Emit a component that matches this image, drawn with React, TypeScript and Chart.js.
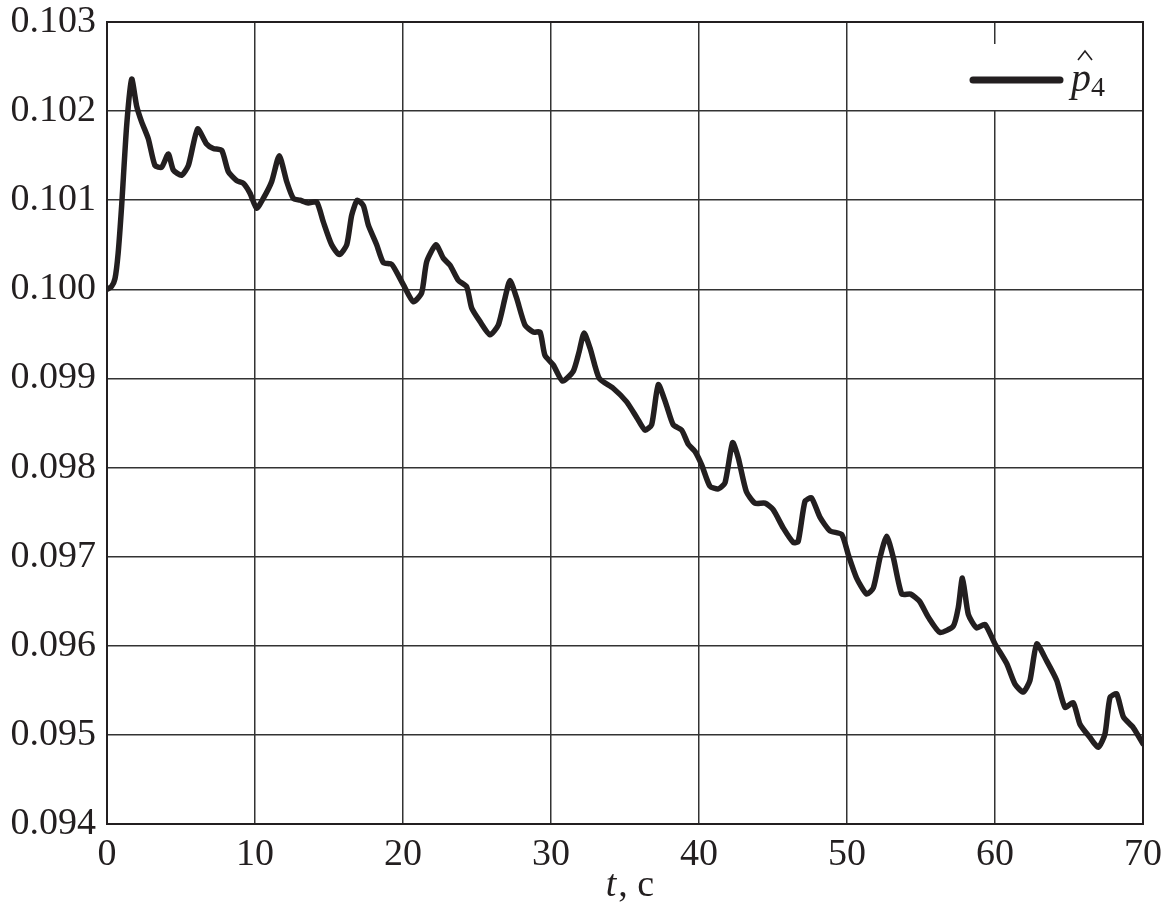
import React, { useEffect, useRef } from "react";
import { Chart, registerables } from "chart.js";

Chart.register(...registerables);

const tValues: number[] = [
  0, 0.3, 0.54, 0.75, 0.99, 1.33, 1.67, 2.0, 2.34, 2.79, 3.24, 3.69, 4.14, 4.48, 5.04, 5.5,
  6.12, 6.73, 7.18, 7.75, 8.2, 8.76, 9.21, 9.66, 10.11, 10.56, 11.13, 11.64, 12.14, 12.59,
  13.04, 13.6, 14.17, 14.61, 15.18, 15.7, 16.2, 16.53, 16.91, 17.32, 17.66, 18.22, 18.67,
  19.24, 19.8, 20.03, 20.7, 21.26, 21.6, 22.23, 22.72, 23.18, 23.74, 24.3, 24.64, 25.2,
  25.88, 26.44, 26.89, 27.23, 27.68, 28.24, 28.8, 29.26, 29.59, 30.16, 30.78, 31.5, 31.9,
  32.23, 32.64, 33.26, 34.2, 35.1, 35.8, 36.35, 36.8, 37.25, 37.8, 38.26, 38.83, 39.28,
  39.73, 40.18, 40.74, 41.31, 41.76, 42.27, 42.65, 43.2, 43.78, 44.46, 45.0, 45.7, 46.37,
  46.7, 47.16, 47.6, 48.18, 48.85, 49.64, 50.09, 50.65, 51.33, 51.78, 52.23, 52.68, 53.13,
  53.7, 54.3, 54.9, 55.5, 56.28, 57.18, 57.52, 57.8, 58.2, 58.76, 59.32, 60.0, 60.79,
  61.35, 61.91, 62.36, 62.82, 63.49, 64.17, 64.73, 65.29, 65.74, 66.42, 66.98, 67.43,
  67.77, 68.22, 68.68, 69.35, 70,
];

const pValues: number[] = [
  0.1, 0.10003, 0.10012, 0.1004, 0.10094, 0.10184, 0.10236, 0.10206, 0.10188, 0.10169,
  0.10139, 0.10137, 0.10152, 0.10134, 0.10128, 0.10139, 0.1018, 0.10163, 0.10158, 0.10156,
  0.10132, 0.10122, 0.10119, 0.10108, 0.10091, 0.10102, 0.10121, 0.1015, 0.10121, 0.10102,
  0.101, 0.10097, 0.10098, 0.10076, 0.1005, 0.10039, 0.1005, 0.10083, 0.101, 0.10094,
  0.10072, 0.1005, 0.1003, 0.10028, 0.10012, 0.10005, 0.09986, 0.09996, 0.10031, 0.1005,
  0.10035, 0.10027, 0.1001, 0.10003, 0.09979, 0.09964, 0.09949, 0.0996, 0.0999, 0.1001,
  0.0999, 0.0996, 0.09952, 0.09952, 0.09926, 0.09915, 0.09897, 0.09908, 0.0993, 0.09951,
  0.09934, 0.099, 0.09889, 0.09874, 0.09856, 0.09842, 0.09848, 0.09893, 0.0987, 0.09848,
  0.09842, 0.09826, 0.09818, 0.09803, 0.09779, 0.09776, 0.09783, 0.09828, 0.09811, 0.09773,
  0.0976, 0.0976, 0.09753, 0.09732, 0.09716, 0.09717, 0.09762, 0.09766, 0.09744, 0.09729,
  0.09725, 0.09702, 0.09676, 0.09658, 0.09665, 0.09699, 0.09723, 0.09699, 0.09658, 0.09658,
  0.0965, 0.09632, 0.09615, 0.09622, 0.09643, 0.09676, 0.09635, 0.0962, 0.09624, 0.09602,
  0.0958, 0.09557, 0.09548, 0.09561, 0.09602, 0.09583, 0.09561, 0.09531, 0.09536, 0.09512,
  0.09497, 0.09486, 0.09501, 0.09542, 0.09546, 0.0952, 0.09508, 0.0949,
];

const xTicks: number[] = [0, 10, 20, 30, 40, 50, 60, 70];
const yTicks: number[] = [0.094, 0.095, 0.096, 0.097, 0.098, 0.099, 0.1, 0.101, 0.102, 0.103];
const xTitleItalic = "t";
const xTitleRest = ", c";
const legendMain = "p";
const legendSub = "4";

const INK = "#231f20";
const FONT = "'Liberation Serif', 'DejaVu Serif', serif";

const overlayPlugin = {
  id: "overlay",
  afterDraw(chart: any) {
    const { ctx, chartArea } = chart;
    ctx.save();
    // x-axis title
    ctx.fillStyle = INK;
    ctx.textBaseline = "alphabetic";
    ctx.font = `italic 38px ${FONT}`;
    const wT = ctx.measureText(xTitleItalic).width;
    ctx.font = `38px ${FONT}`;
    const wR = ctx.measureText(xTitleRest).width;
    const cx = (chartArea.left + chartArea.right) / 2 + 4;
    const sx = cx - (wT + wR) / 2;
    ctx.font = `italic 38px ${FONT}`;
    ctx.textAlign = "left";
    ctx.fillText(xTitleItalic, sx, 896);
    ctx.font = `38px ${FONT}`;
    ctx.fillText(xTitleRest, sx + wT + 2, 896);

    // legend box
    ctx.fillStyle = "#ffffff";
    ctx.fillRect(958, 44, 175, 66);
    ctx.strokeStyle = INK;
    ctx.lineWidth = 7;
    ctx.lineCap = "round";
    ctx.beginPath();
    ctx.moveTo(973, 80);
    ctx.lineTo(1060, 80);
    ctx.stroke();
    ctx.fillStyle = INK;
    ctx.font = `italic 40px ${FONT}`;
    ctx.fillText(legendMain, 1071, 91);
    ctx.font = `28px ${FONT}`;
    ctx.fillText(legendSub, 1091, 96);
    // hat
    ctx.lineWidth = 1.6;
    ctx.lineCap = "butt";
    ctx.beginPath();
    ctx.moveTo(1078, 60);
    ctx.lineTo(1085, 51);
    ctx.lineTo(1092, 60);
    ctx.stroke();
    ctx.restore();
  },
};

export default function App() {
  const ref = useRef<HTMLCanvasElement | null>(null);
  useEffect(() => {
    if (!ref.current) return;
    const data = tValues.map((t, i) => ({ x: t, y: pValues[i] }));
    const chart = new Chart(ref.current, {
      type: "line",
      data: {
        datasets: [
          {
            label: "p4",
            data,
            borderColor: INK,
            borderWidth: 5.5,
            pointRadius: 0,
            tension: 0.2,
            borderJoinStyle: "round",
            borderCapStyle: "round",
            fill: false,
          },
        ],
      },
      options: {
        animation: false,
        responsive: false,
        maintainAspectRatio: false,
        layout: { padding: { top: 22, right: 22, left: 0, bottom: 0 } },
        plugins: { legend: { display: false }, tooltip: { enabled: false } },
        scales: {
          x: {
            type: "linear",
            min: 0,
            max: 70,
            afterBuildTicks: (s: any) => {
              s.ticks = xTicks.map((v) => ({ value: v }));
            },
            afterFit: (s: any) => {
              s.height = 92;
              s.paddingLeft = 0;
              s.paddingRight = 0;
            },
            grid: { color: "#333333", lineWidth: 1.5, drawTicks: false },
            border: { display: true, color: INK, width: 2 },
            ticks: {
              font: { family: FONT, size: 38 },
              color: INK,
              padding: 8,
              maxRotation: 0,
              callback: (v: any) => String(v),
            },
          },
          y: {
            type: "linear",
            min: 0.094,
            max: 0.103,
            afterBuildTicks: (s: any) => {
              s.ticks = yTicks.map((v) => ({ value: v }));
            },
            afterFit: (s: any) => {
              s.width = 107;
              s.paddingTop = 0;
              s.paddingBottom = 0;
            },
            grid: { color: "#333333", lineWidth: 1.5, drawTicks: false },
            border: { display: true, color: INK, width: 2 },
            ticks: {
              font: { family: FONT, size: 38 },
              color: INK,
              padding: 11,
              callback: (v: any) => Number(v).toFixed(3),
            },
          },
        },
      },
      plugins: [
        overlayPlugin,
        {
          id: "frame",
          afterDatasetsDraw(chart: any) {
            const { ctx, chartArea } = chart;
            ctx.save();
            ctx.strokeStyle = INK;
            ctx.lineWidth = 2;
            ctx.strokeRect(chartArea.left, chartArea.top, chartArea.right - chartArea.left, chartArea.bottom - chartArea.top);
            ctx.restore();
          },
        },
      ],
    } as any);
    return () => chart.destroy();
  }, []);
  return (
    <div style={{ position: "fixed", left: 0, top: 0, width: 1165, height: 916, background: "#fff" }}>
      <canvas ref={ref} width={1165} height={916} style={{ width: 1165, height: 916 }} />
    </div>
  );
}
